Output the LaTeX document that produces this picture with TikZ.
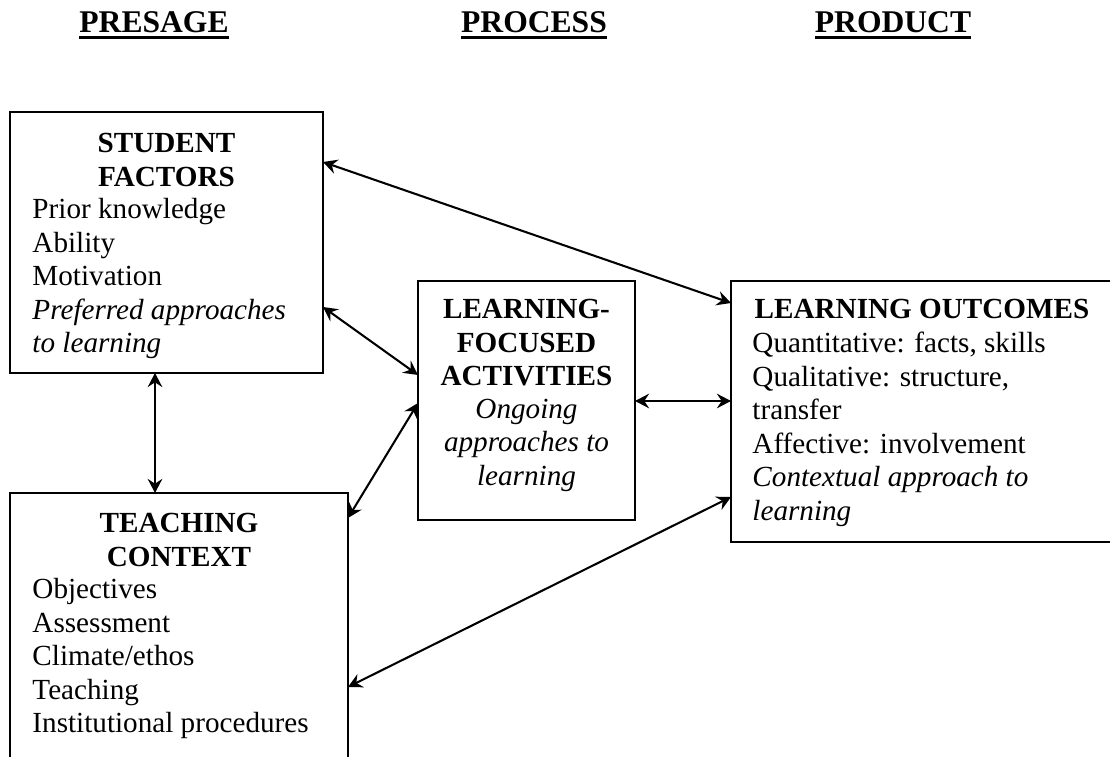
\documentclass[tikz,border=0pt]{standalone}
\usepackage{fontspec}
\setmainfont{Liberation Serif}
\usetikzlibrary{arrows.meta}
\newcommand{\pxu}{0.4115pt}
\newcommand{\headul}[1]{\setbox0\hbox{#1}\rlap{\rule[-2.5pt]{\wd0}{1.2pt}}\box0}

\begin{document}
\begin{tikzpicture}[x=0.4115pt, y=-0.4115pt,
  >={Stealth[length=5.8pt,width=6pt,inset=2pt]},
  box/.style={draw, line width=1.1pt, inner sep=0pt, outer sep=0pt, anchor=north west},
  head/.style={font=\fontsize{13}{15}\selectfont\bfseries, anchor=base, inner sep=0pt},
  title/.style={font=\fontsize{12}{13.8}\selectfont\bfseries, align=center, anchor=north, inner sep=0pt},
  body/.style={font=\fontsize{12}{13.8}\selectfont, align=left, anchor=north west, inner sep=0pt},
  note/.style={font=\fontsize{12}{13.8}\selectfont\itshape, align=center, anchor=north, inner sep=0pt},
  link/.style={draw, line width=0.85pt, <->}]
\useasboundingbox (0,0) rectangle (1110,757);

% column headings
\node[head] (presage) at (154,33) {\headul{PRESAGE}};
\node[head] (process) at (534,33) {\headul{PROCESS}};
\node[head] (product) at (893,33) {\headul{PRODUCT}};

% boxes
\node[box, minimum width=313*\pxu, minimum height=261*\pxu] (student) at (10,112) {};
\node[box, minimum width=338*\pxu, minimum height=290*\pxu] (teaching) at (10,493) {};
\node[box, minimum width=217*\pxu, minimum height=239*\pxu] (activities) at (418,281) {};
\node[box, minimum width=382*\pxu, minimum height=261*\pxu] (outcomes) at (731,281) {};

% box texts
\node[title] (studenthd) at (166.5,132.7) {STUDENT\\FACTORS};
\node[body] (studentls) at (32,198) {Prior knowledge\\Ability\\Motivation\\\textit{Preferred approaches}\\\textit{to learning}};
\node[title] (teachinghd) at (179,512.7) {TEACHING\\CONTEXT};
\node[body] (teachingls) at (32,578) {Objectives\\Assessment\\Climate/ethos\\Teaching\\Institutional procedures};
\node[title] (activitieshd) at (526.5,298.7) {LEARNING-\\FOCUSED\\ACTIVITIES};
\node[note] (activitiesls) at (526.5,398.5) {Ongoing\\approaches to\\learning};
\node[title] (outcomeshd) at (922,298.7) {LEARNING OUTCOMES};
\node[body] (outcomesls) at (752,331.5) {Quantitative: facts, skills\\Qualitative: structure,\\transfer\\Affective: involvement\\\textit{Contextual approach to}\\\textit{learning}};

% links
\path[link] (student.east |- 0,162) -- (outcomes.west |- 0,303);
\path[link] (student.east |- 0,307) -- (activities.west |- 0,375);
\path[link] (teaching.east |- 0,518) -- (activities.west |- 0,403);
\path[link] (activities.east |- 0,401) -- (outcomes.west |- 0,401);
\path[link] (teaching.east |- 0,687) -- (outcomes.west |- 0,497);
\path[link] (student.south -| 155,0) -- (teaching.north -| 155,0);
\end{tikzpicture}
\end{document}
